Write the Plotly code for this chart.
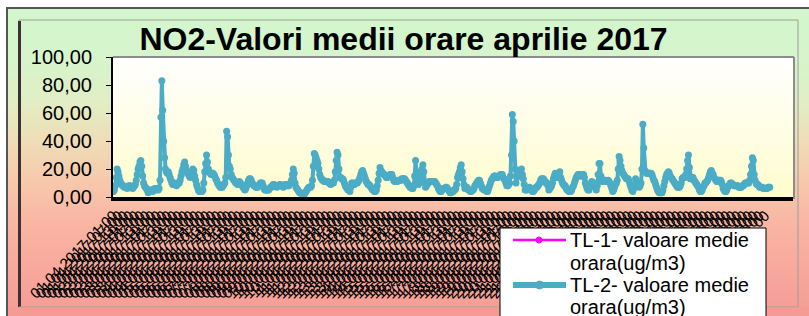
import plotly.graph_objects as go

# ---------------- data ----------------
# TL-2 hourly NO2 averages, April 2017 (24 values per day, days 1..30)
tl2_values = [
    4, 5, 8, 14, 20, 18, 15, 12, 10, 9, 8, 8, 7, 7, 7, 6, 7, 8, 8, 7, 7, 6, 7, 8,            # 01
    9, 12, 16, 20, 22, 25, 26, 22, 15, 10, 8, 7, 6, 5, 3, 4, 5, 4, 5, 4, 5, 6, 5, 6,          # 02
    6, 5, 6, 12, 57, 83, 62, 40, 28, 20, 18, 17, 18, 16, 14, 12, 10, 9, 9, 10, 9, 8, 9, 10,   # 03
    10, 12, 15, 18, 20, 23, 25, 22, 19, 17, 17, 15, 14, 16, 18, 20, 19, 15, 12, 9, 7, 5, 4, 4,  # 04
    4, 4, 5, 10, 18, 24, 30, 25, 20, 18, 17, 16, 17, 17, 16, 15, 13, 12, 10, 9, 8, 7, 7, 7,   # 05
    8, 9, 10, 14, 47, 43, 30, 22, 20, 16, 14, 13, 12, 11, 10, 10, 9, 10, 11, 10, 9, 8, 7, 6,  # 06
    5, 6, 8, 10, 12, 13, 13, 12, 10, 9, 8, 8, 7, 7, 7, 8, 9, 10, 10, 10, 8, 6, 5, 5,          # 07
    5, 5, 5, 6, 7, 7, 8, 9, 9, 8, 8, 7, 8, 8, 9, 9, 8, 8, 7, 8, 9, 9, 8, 8,                  # 08
    8, 9, 10, 12, 16, 20, 17, 10, 7, 6, 5, 4, 3, 3, 2, 2, 1.5, 2, 3, 4, 5, 6, 7, 7,           # 09
    7, 8, 12, 22, 31, 30, 28, 26, 24, 20, 16, 14, 13, 12, 12, 11, 11, 11, 11, 11, 10, 10, 9, 10,  # 10
    10, 10, 12, 18, 26, 32, 30, 20, 14, 14, 13, 13, 12, 10, 8, 7, 6, 5, 5, 4, 7, 10, 10, 9,   # 11
    9, 10, 10, 10, 11, 12, 14, 16, 18, 19, 17, 15, 13, 11, 10, 9, 9, 8, 7, 6, 5, 5, 4, 4,     # 12
    5, 8, 12, 17, 21, 19, 18, 17, 16, 16, 15, 14, 14, 15, 15, 16, 16, 16, 14, 12, 11, 11, 11, 11,  # 13
    12, 12, 12, 12, 13, 13, 13, 13, 12, 11, 10, 9, 8, 7, 7, 6, 6, 8, 15, 26, 18, 10, 9, 10,   # 14
    12, 15, 20, 23, 18, 10, 7, 8, 10, 10, 11, 11, 11, 11, 11, 11, 11, 10, 9, 8, 6, 5, 4, 4,   # 15
    5, 6, 6, 6, 7, 7, 6, 5, 4, 3, 3, 4, 4, 5, 5, 6, 9, 14, 16, 18, 21, 23, 18, 13,            # 16
    9, 6, 7, 7, 6, 5, 5, 4, 4, 5, 5, 6, 8, 9, 10, 11, 12, 12, 10, 8, 6, 6, 5, 5,              # 17
    5, 4, 4, 6, 8, 10, 12, 13, 14, 15, 15, 14, 14, 14, 15, 15, 16, 16, 16, 14, 13, 12, 10, 8, # 18
    8, 9, 10, 15, 30, 59, 54, 40, 20, 10, 14, 16, 17, 18, 19, 20, 16, 13, 9, 5, 5, 5, 6, 6,   # 19
    7, 6, 5, 4, 4, 5, 6, 7, 7, 8, 9, 10, 12, 13, 13, 13, 12, 11, 10, 10, 8, 5, 6, 7,          # 20
    8, 10, 13, 15, 17, 15, 14, 14, 16, 18, 14, 12, 10, 9, 8, 8, 6, 5, 5, 4, 4, 4, 5, 7,       # 21
    8, 10, 12, 14, 15, 16, 16, 15, 15, 16, 16, 16, 14, 10, 8, 6, 5, 5, 7, 9, 11, 10, 10, 10,  # 22
    8, 5, 8, 16, 24, 24, 15, 11, 11, 12, 12, 12, 11, 11, 12, 11, 10, 8, 6, 4, 5, 7, 9, 10,    # 23
    12, 20, 29, 26, 22, 19, 17, 16, 15, 14, 13, 13, 13, 11, 9, 7, 5, 4, 6, 9, 13, 12, 10, 8,  # 24
    7, 8, 10, 20, 52, 35, 19, 18, 17, 17, 17, 17, 17, 17, 16, 14, 12, 11, 9, 7, 5, 4, 3, 3,   # 25
    3, 3, 5, 8, 11, 14, 16, 17, 18, 17, 15, 14, 13, 12, 11, 10, 9, 8, 7, 7, 7, 8, 10, 13,     # 26
    14, 14, 14, 16, 20, 26, 30, 21, 13, 13, 14, 14, 12, 11, 10, 9, 8, 7, 5, 4, 4, 5, 7, 8,    # 27
    10, 10, 11, 12, 14, 16, 18, 19, 17, 16, 14, 13, 12, 11, 11, 12, 12, 12, 11, 9, 6, 5, 4, 4,  # 28
    5, 7, 8, 9, 10, 10, 9, 9, 8, 8, 8, 8, 8, 7, 7, 7, 7, 8, 8, 9, 10, 10, 10, 10,             # 29
    10, 12, 16, 22, 28, 26, 16, 12, 10, 9, 9, 8, 7, 7, 7, 7, 6, 6, 6, 6, 6, 7, 7, 7,          # 30
]
tl1_values = []  # TL-1 has no values this month

days = list(range(1, 31))
hours = list(range(1, 25))
time_labels = [f"{d:02d}.04.2017 {h:02d}:00" for d in days for h in hours]
x_index = list(range(len(time_labels)))
n_categories = 745   # category slots on the axis (includes empty trailing rows)
label_interval = 6   # every 6th category label is printed

title_text = "NO2-Valori medii orare aprilie 2017"
name_tl1 = "TL-1- valoare medie orara(ug/m3)"
name_tl2 = "TL-2- valoare medie orara(ug/m3)"
y_ticks = [0, 20, 40, 60, 80, 100]

# ---------------- layout helpers ----------------
W, H = 809, 316
L, R, T, B = 113, 16, 57, 119
PW, PH = W - L - R, H - T - B
FONT = "Arial, Liberation Sans, sans-serif"


def px(x):
    return (x - L) / PW


def py(y):
    return (H - B - y) / PH


def lerp_color(stops, y):
    for (y0, c0), (y1, c1) in zip(stops, stops[1:]):
        if y0 <= y <= y1:
            t = (y - y0) / (y1 - y0) if y1 > y0 else 0
            c = [round(a + (b - a) * t) for a, b in zip(c0, c1)]
            return f"rgb({c[0]},{c[1]},{c[2]})"
    c = stops[-1][1]
    return f"rgb({c[0]},{c[1]},{c[2]})"


outer_stops = [
    (0, (211, 246, 206)), (60, (214, 245, 204)), (100, (225, 238, 196)),
    (140, (239, 222, 184)), (180, (247, 201, 172)), (220, (249, 183, 164)),
    (270, (248, 168, 156)), (330, (244, 152, 146)),
]
plot_stops = [(57, (255, 255, 255)), (197, (255, 252, 204))]

shapes = []
step = 2
for y in range(8, 318, step):
    shapes.append(dict(type="rect", xref="paper", yref="paper", layer="below",
                       x0=px(7), x1=px(812), y0=py(y), y1=py(y + step),
                       fillcolor=lerp_color(outer_stops, y + step / 2), line=dict(width=0)))
shapes.append(dict(type="rect", xref="paper", yref="paper", layer="below",
                   x0=px(7), x1=px(815), y0=py(8), y1=py(325),
                   line=dict(color="#555555", width=2)))
shapes.append(dict(type="rect", xref="paper", yref="paper", layer="below",
                   x0=px(19), x1=px(798), y0=py(20), y1=py(307),
                   line=dict(color="#9c9c9c", width=1)))
shapes.append(dict(type="rect", xref="paper", yref="paper", layer="below",
                   x0=px(18), x1=px(21), y0=py(21), y1=py(307),
                   fillcolor="#3c3232", line=dict(width=0)))
for y in range(57, 197, step):
    shapes.append(dict(type="rect", xref="paper", yref="paper", layer="below",
                       x0=0, x1=1, y0=py(y), y1=py(y + step),
                       fillcolor=lerp_color(plot_stops, y + step / 2), line=dict(width=0)))
shapes.append(dict(type="line", xref="paper", yref="paper", layer="below",
                   x0=0, x1=px(794), y0=py(57), y1=py(57), line=dict(color="#8c8c8c", width=2)))
shapes.append(dict(type="line", xref="paper", yref="paper", layer="below",
                   x0=px(794), x1=px(794), y0=py(57), y1=py(199), line=dict(color="#8c8c8c", width=2)))

# bottom frame band covering overflowing labels
shapes.append(dict(type="rect", xref="paper", yref="paper", layer="above",
                   x0=px(7), x1=px(815), y0=py(307), y1=py(325),
                   fillcolor="#f59b93", line=dict(width=0)))
shapes.append(dict(type="line", xref="paper", yref="paper", layer="above",
                   x0=px(19), x1=px(798), y0=py(307), y1=py(307), line=dict(color="#c9a0a0", width=1)))
shapes.append(dict(type="rect", xref="paper", yref="paper", layer="above",
                   x0=px(6), x1=px(8), y0=py(290), y1=py(325),
                   fillcolor="#555555", line=dict(width=0)))

# custom legend (box clipped by the figure bottom like the original)
shapes.append(dict(type="rect", xref="paper", yref="paper", layer="above",
                   x0=px(500), x1=px(766), y0=py(228), y1=py(335),
                   fillcolor="white", line=dict(color="black", width=1)))
shapes.append(dict(type="line", xref="paper", yref="paper", layer="above",
                   x0=px(513), x1=px(566), y0=py(240), y1=py(240),
                   line=dict(color="#ff00ff", width=2.5)))
shapes.append(dict(type="circle", xref="paper", yref="paper", layer="above",
                   x0=px(536), x1=px(542), y0=py(237), y1=py(243),
                   fillcolor="#ff00ff", line=dict(color="#ff00ff", width=1)))
shapes.append(dict(type="line", xref="paper", yref="paper", layer="above",
                   x0=px(513), x1=px(566), y0=py(285), y1=py(285),
                   line=dict(color="#4bacc6", width=6)))
shapes.append(dict(type="circle", xref="paper", yref="paper", layer="above",
                   x0=px(535.5), x1=px(543.5), y0=py(281), y1=py(289),
                   fillcolor="#4bacc6", line=dict(color="#4bacc6", width=1)))

legend_lines = [("TL-1- valoare medie", 240), ("orara(ug/m3)", 263),
                ("TL-2- valoare medie", 285), ("orara(ug/m3)", 307)]
annotations = []
for txt, yy in legend_lines:
    annotations.append(dict(text=txt, xref="paper", yref="paper", x=px(568), y=py(yy),
                            xanchor="left", yanchor="middle", showarrow=False,
                            font=dict(family=FONT, size=20, color="black")))

# ---------------- figure ----------------
fig = go.Figure()
fig.add_trace(go.Scatter(
    x=x_index[:len(tl1_values)], y=tl1_values, name=name_tl1, mode="lines+markers",
    line=dict(color="#ff00ff", width=2), marker=dict(size=5, color="#ff00ff"), showlegend=False))
fig.add_trace(go.Scatter(
    x=x_index, y=tl2_values, name=name_tl2, mode="lines+markers",
    line=dict(color="#4bacc6", width=4), marker=dict(size=7, color="#4bacc6"), showlegend=False))

fig.update_layout(
    width=W, height=H,
    margin=dict(l=L, r=R, t=T, b=B, autoexpand=False),
    paper_bgcolor="white", plot_bgcolor="rgba(0,0,0,0)",
    separators=",.",
    title=dict(text=title_text, x=403.5 / W, xref="container", xanchor="center",
               y=1 - 39 / H, yref="container", yanchor="middle",
               font=dict(family=FONT, size=32, color="black", weight="bold")),
    xaxis=dict(type="linear", range=[-0.5, n_categories - 0.5],
               tickmode="array", tickvals=x_index[::label_interval],
               ticktext=time_labels[::label_interval],
               tickangle=-45, ticks="", showgrid=False, zeroline=False,
               showline=True, linecolor="black", linewidth=4,
               tickfont=dict(family=FONT, size=15, color="black")),
    yaxis=dict(range=[0, 100], tickmode="array", tickvals=y_ticks, tickformat=".2f",
               ticks="outside", ticklen=5, tickcolor="black", tickwidth=1,
               showgrid=False, zeroline=False, showline=True, linecolor="black", linewidth=2,
               ticklabelstandoff=10,
               tickfont=dict(family=FONT, size=20, color="black")),
    shapes=shapes,
    annotations=annotations,
    showlegend=False,
)

fig.write_html("out.html", config={"displayModeBar": False},
               post_script="document.body.style.margin='0';")
